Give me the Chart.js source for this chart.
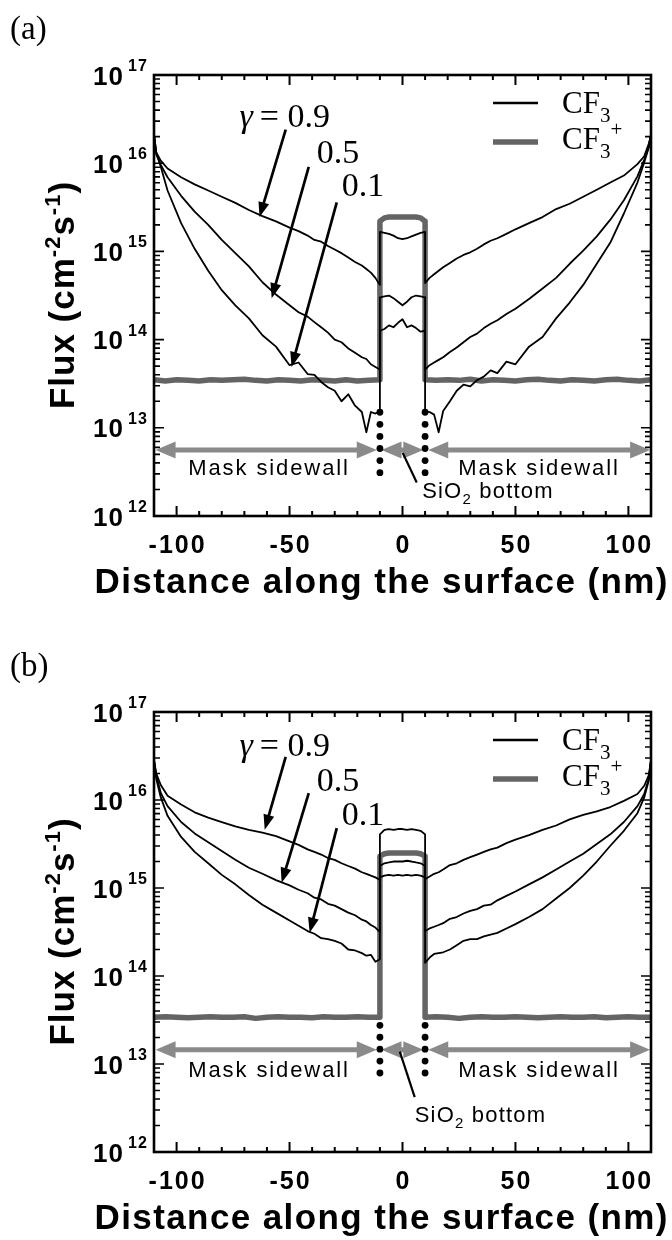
<!DOCTYPE html>
<html>
<head>
<meta charset="utf-8">
<script src="https://cdn.jsdelivr.net/npm/chart.js@4.4.1/dist/chart.umd.min.js"></script>
<style>
  html, body { margin: 0; padding: 0; background: #fff; }
  #page { position: relative; width: 672px; height: 1240px; overflow: hidden; }
  .panel { position: absolute; left: 0; width: 672px; height: 620px; }
</style>
</head>
<body>
<div id="page">
  <div class="panel" style="top:0"><canvas id="chartA" width="672" height="620"></canvas></div>
  <div class="panel" style="top:620px"><canvas id="chartB" width="672" height="620"></canvas></div>
</div>
<script>
// ---- distance grids (nm) ----
const xLeft = [-110, -109, -107, -104, -98, -92, -86, -80, -74, -68, -62, -56, -50, -46, -42, -39, -36, -33, -30, -27, -24, -21, -18, -16, -14, -12, -10];
const xBottom = [-10, -8, -6, -4, -2, 0, 2, 4, 6, 8, 10];
const xRight = [10, 12, 14, 16, 18, 21, 24, 27, 30, 33, 36, 39, 42, 46, 50, 56, 62, 68, 74, 80, 86, 92, 98, 104, 107, 109, 110];
const ionXLeft = [-110, -105, -100, -95, -90, -85, -80, -75, -70, -65, -60, -55, -50, -45, -40, -35, -30, -25, -20, -15, -10];
const ionXRight = [10, 15, 20, 25, 30, 35, 40, 45, 50, 55, 60, 65, 70, 75, 80, 85, 90, 95, 100, 105, 110];

// ---- axis ticks ----
const xTickLabels = [-100, -50, 0, 50, 100];
const yDecades = [12, 13, 14, 15, 16, 17];

// ---- panel (a): CF3 flux (cm^-2 s^-1) ----
const a09Left = [2.09e16, 1.32e16, 1.07e16, 8.71e15, 6.92e15, 5.75e15, 4.90e15, 4.17e15, 3.55e15, 2.95e15, 2.51e15, 2.19e15, 1.86e15, 1.70e15, 1.51e15, 1.35e15, 1.29e15, 1.15e15, 1.05e15, 9.55e14, 8.51e14, 7.59e14, 6.92e14, 6.31e14, 5.75e14, 5.01e14, 4.17e14];
const a09Bottom = [1.66e15, 1.62e15, 1.58e15, 1.51e15, 1.41e15, 1.38e15, 1.41e15, 1.48e15, 1.55e15, 1.62e15, 1.66e15];
const a09Right = [4.37e14, 5.01e14, 5.50e14, 6.03e14, 6.61e14, 7.41e14, 8.32e14, 9.12e14, 9.77e14, 1.07e15, 1.20e15, 1.32e15, 1.41e15, 1.58e15, 1.78e15, 2.09e15, 2.45e15, 3.02e15, 3.47e15, 4.17e15, 5.01e15, 6.03e15, 7.24e15, 9.77e15, 1.20e16, 1.66e16, 2.09e16];

const a05Left = [2.09e16, 1.26e16, 9.55e15, 6.92e15, 4.27e15, 2.82e15, 2.00e15, 1.35e15, 9.55e14, 6.76e14, 4.47e14, 3.24e14, 2.45e14, 2.04e14, 1.82e14, 1.58e14, 1.38e14, 1.20e14, 1.00e14, 9.33e13, 7.94e13, 7.08e13, 6.31e13, 6.03e13, 5.25e13, 4.90e13, 4.57e13];
const a05Bottom = [3.02e14, 3.09e14, 3.16e14, 2.95e14, 2.69e14, 2.45e14, 2.69e14, 3.02e14, 3.16e14, 3.09e14, 3.02e14];
const a05Right = [4.57e13, 5.13e13, 5.50e13, 5.89e13, 6.31e13, 7.24e13, 8.13e13, 9.33e13, 1.07e14, 1.17e14, 1.35e14, 1.51e14, 1.66e14, 1.95e14, 2.24e14, 2.88e14, 3.80e14, 5.01e14, 7.24e14, 1.02e15, 1.48e15, 2.29e15, 3.80e15, 7.08e15, 1.10e16, 1.51e16, 2.09e16];

const a01Left = [2.09e16, 1.32e16, 9.12e15, 4.90e15, 2.09e15, 1.07e15, 6.03e14, 3.63e14, 2.45e14, 1.74e14, 1.12e14, 8.32e13, 5.13e13, 5.50e13, 4.07e13, 3.98e13, 3.31e13, 2.88e13, 2.63e13, 2.00e13, 2.40e13, 1.78e13, 1.51e13, 8.91e12, 1.51e13, 1.45e13, 1.55e13];
const a01Bottom = [1.26e14, 1.32e14, 1.45e14, 1.38e14, 1.55e14, 1.70e14, 1.38e14, 1.45e14, 1.35e14, 1.23e14, 1.26e14];
const a01Right = [1.55e13, 1.51e13, 1.41e13, 8.91e12, 1.55e13, 2.00e13, 2.63e13, 3.09e13, 2.95e13, 3.47e13, 3.80e13, 4.47e13, 4.17e13, 5.62e13, 5.25e13, 8.32e13, 1.07e14, 1.74e14, 2.63e14, 4.17e14, 7.24e14, 1.26e15, 2.69e15, 6.03e15, 1.02e16, 1.51e16, 2.09e16];

// ---- panel (a): CF3+ flux ----
const ionALeft = [3.5e13, 3.4e13, 3.5e13, 3.45e13, 3.4e13, 3.5e13, 3.45e13, 3.5e13, 3.55e13, 3.45e13, 3.4e13, 3.5e13, 3.45e13, 3.4e13, 3.5e13, 3.45e13, 3.4e13, 3.5e13, 3.4e13, 3.45e13, 3.5e13];
const ionABottom = [2.2e15, 2.4e15, 2.45e15, 2.45e15, 2.45e15, 2.45e15, 2.45e15, 2.45e15, 2.45e15, 2.4e15, 2.2e15];
const ionARight = [3.5e13, 3.45e13, 3.5e13, 3.45e13, 3.55e13, 3.4e13, 3.5e13, 3.45e13, 3.4e13, 3.5e13, 3.55e13, 3.45e13, 3.4e13, 3.5e13, 3.45e13, 3.4e13, 3.5e13, 3.55e13, 3.45e13, 3.4e13, 3.5e13];

// ---- panel (b): CF3 flux ----
const b09Left = [2.82e16, 2.00e16, 1.48e16, 1.12e16, 8.91e15, 7.24e15, 6.31e15, 5.62e15, 5.01e15, 4.57e15, 4.27e15, 3.89e15, 3.39e15, 3.09e15, 2.75e15, 2.57e15, 2.40e15, 2.19e15, 2.09e15, 1.91e15, 1.78e15, 1.66e15, 1.51e15, 1.45e15, 1.38e15, 1.32e15, 1.23e15];
const b09Bottom = [4.07e15, 4.57e15, 4.68e15, 4.57e15, 4.68e15, 4.68e15, 4.57e15, 4.68e15, 4.57e15, 4.47e15, 4.07e15];
const b09Right = [1.26e15, 1.35e15, 1.45e15, 1.51e15, 1.62e15, 1.82e15, 1.91e15, 2.09e15, 2.24e15, 2.40e15, 2.57e15, 2.75e15, 2.88e15, 3.24e15, 3.55e15, 3.98e15, 4.57e15, 5.13e15, 6.03e15, 6.76e15, 7.41e15, 8.32e15, 9.77e15, 1.17e16, 1.45e16, 1.91e16, 2.82e16];

const b05Left = [2.82e16, 1.91e16, 1.20e16, 8.51e15, 5.62e15, 4.17e15, 3.31e15, 2.63e15, 2.09e15, 1.70e15, 1.45e15, 1.23e15, 1.07e15, 9.55e14, 8.71e14, 7.76e14, 7.41e14, 6.61e14, 6.31e14, 5.75e14, 5.25e14, 4.90e14, 4.37e14, 4.17e14, 3.80e14, 3.55e14, 3.16e14];
const b05Bottom = [1.78e15, 1.91e15, 1.95e15, 2.00e15, 2.00e15, 2.00e15, 2.04e15, 2.00e15, 1.95e15, 1.91e15, 1.78e15];
const b05Right = [3.24e14, 3.47e14, 3.63e14, 3.80e14, 3.98e14, 4.47e14, 4.68e14, 5.13e14, 5.50e14, 5.75e14, 6.31e14, 6.46e14, 7.24e14, 8.13e14, 9.12e14, 1.10e15, 1.32e15, 1.62e15, 2.00e15, 2.45e15, 3.16e15, 4.07e15, 5.62e15, 8.51e15, 1.17e16, 1.74e16, 2.82e16];

const b01Left = [2.82e16, 1.74e16, 1.07e16, 6.61e15, 3.80e15, 2.57e15, 1.91e15, 1.41e15, 1.10e15, 8.32e14, 6.46e14, 5.25e14, 4.27e14, 3.72e14, 3.24e14, 3.02e14, 2.69e14, 2.63e14, 2.51e14, 2.34e14, 2.00e14, 1.95e14, 1.82e14, 1.70e14, 1.74e14, 1.45e14, 1.55e14];
const b01Bottom = [1.32e15, 1.38e15, 1.41e15, 1.38e15, 1.41e15, 1.38e15, 1.41e15, 1.38e15, 1.41e15, 1.38e15, 1.32e15];
const b01Right = [1.41e14, 1.62e14, 1.78e14, 1.82e14, 1.86e14, 2.00e14, 2.24e14, 2.51e14, 2.63e14, 2.63e14, 2.82e14, 2.95e14, 3.09e14, 3.47e14, 3.89e14, 4.68e14, 5.75e14, 7.59e14, 1.00e15, 1.38e15, 2.00e15, 3.02e15, 4.47e15, 7.08e15, 1.07e16, 1.66e16, 2.82e16];

// ---- panel (b): CF3+ flux ----
const ionBLeft = [3.4e13, 3.45e13, 3.4e13, 3.35e13, 3.4e13, 3.45e13, 3.4e13, 3.4e13, 3.45e13, 3.3e13, 3.4e13, 3.45e13, 3.4e13, 3.4e13, 3.35e13, 3.45e13, 3.4e13, 3.4e13, 3.45e13, 3.4e13, 3.4e13];
const ionBBottom = [2.3e15, 2.45e15, 2.5e15, 2.5e15, 2.5e15, 2.5e15, 2.5e15, 2.5e15, 2.5e15, 2.45e15, 2.3e15];
const ionBRight = [3.4e13, 3.45e13, 3.4e13, 3.3e13, 3.4e13, 3.45e13, 3.4e13, 3.4e13, 3.45e13, 3.4e13, 3.35e13, 3.4e13, 3.45e13, 3.4e13, 3.4e13, 3.45e13, 3.35e13, 3.4e13, 3.45e13, 3.4e13, 3.4e13];

// ---- fonts / colours ----
const SANS = '"Liberation Sans", Arial, sans-serif';
const SERIF = '"Liberation Serif", "Times New Roman", serif';
const ION_GREY = '#646464';
const ARROW_GREY = '#8a8a8a';

// join wall / bottom / wall segments into one {x, y} trace
function trace(parts) {
  const out = [];
  for (const [xs, ys] of parts) xs.forEach((x, i) => out.push({ x, y: ys[i] }));
  return out;
}

// ---- text helpers (per-character tracking, sub/superscripts) ----
function runsWidth(ctx, runs, sp) {
  let w = 0, n = 0;
  for (const r of runs) {
    ctx.font = r.font;
    for (const ch of r.text) { w += ctx.measureText(ch).width; n++; }
    w += r.gap || 0;
  }
  return w + sp * (n - 1);
}
function drawRuns(ctx, runs, x, y, align, sp) {
  const w = runsWidth(ctx, runs, sp);
  let cx = align === 'center' ? x - w / 2 : align === 'right' ? x - w : x;
  ctx.textAlign = 'left';
  ctx.textBaseline = 'alphabetic';
  for (const r of runs) {
    ctx.font = r.font;
    for (const ch of r.text) {
      ctx.fillText(ch, cx, y + (r.dy || 0));
      cx += ctx.measureText(ch).width + sp;
    }
    cx += r.gap || 0;
  }
}
function arrowHead(ctx, x1, y1, x2, y2, len, half) {
  const ang = Math.atan2(y2 - y1, x2 - x1);
  const bx = x2 - len * Math.cos(ang), by = y2 - len * Math.sin(ang);
  ctx.beginPath();
  ctx.moveTo(x2, y2);
  ctx.lineTo(bx + half * Math.sin(ang), by - half * Math.cos(ang));
  ctx.lineTo(bx - half * Math.sin(ang), by + half * Math.cos(ang));
  ctx.closePath();
  ctx.fill();
  return [bx, by];
}
function singleArrow(ctx, x1, y1, x2, y2, w, len, half, color) {
  ctx.fillStyle = color; ctx.strokeStyle = color; ctx.lineWidth = w; ctx.lineCap = 'butt';
  const [bx, by] = arrowHead(ctx, x1, y1, x2, y2, len, half);
  ctx.beginPath(); ctx.moveTo(x1, y1); ctx.lineTo(bx + (x2 - bx) * 0.3, by + (y2 - by) * 0.3); ctx.stroke();
}
function doubleArrow(ctx, x1, y, x2, w, len, half, color) {
  ctx.fillStyle = color; ctx.strokeStyle = color; ctx.lineWidth = w; ctx.lineCap = 'butt';
  arrowHead(ctx, x2, y, x1, y, len, half);
  arrowHead(ctx, x1, y, x2, y, len, half);
  ctx.beginPath(); ctx.moveTo(x1 + len * 0.7, y); ctx.lineTo(x2 - len * 0.7, y); ctx.stroke();
}

// ---- frame, ticks, labels and annotations ----
function decorations(panel) {
  return {
    id: 'decor' + panel.tag,
    afterDraw(chart) {
      const { ctx, chartArea: a, scales: { x, y } } = chart;
      const X = v => x.getPixelForValue(v);
      const Y = v => y.getPixelForValue(v);
      ctx.save();
      ctx.fillStyle = '#000';
      ctx.strokeStyle = '#000';

      // panel tag
      ctx.font = '33px ' + SERIF;
      ctx.textAlign = 'left'; ctx.textBaseline = 'alphabetic';
      ctx.fillText(panel.tag, 10, a.top - 36);

      // grey region arrows
      const ya = Y(panel.regionY);
      doubleArrow(ctx, X(-109.3), ya, X(-11.4), 5, 20, 8.5, ARROW_GREY);
      doubleArrow(ctx, X(-9.3), ya, X(9.2), 5, 20, 8.5, ARROW_GREY);
      doubleArrow(ctx, X(11.4), ya, X(109.6), 5, 20, 8.5, ARROW_GREY);

      // dotted trench edges
      ctx.fillStyle = '#000';
      ctx.strokeStyle = '#000';
      const dTop = Y(panel.dots[0]), dBot = Y(panel.dots[1]), n = panel.dots[2];
      for (const xv of [-10, 10]) {
        for (let i = 0; i < n; i++) {
          const py = dTop + (dBot - dTop) * i / (n - 1);
          ctx.beginPath(); ctx.arc(X(xv), py, 3.4, 0, Math.PI * 2); ctx.fill();
        }
      }

      // region texts
      const maskFont = '22px ' + SANS;
      drawRuns(ctx, [{ text: 'Mask sidewall', font: maskFont }], X(-59.5), Y(panel.maskY), 'center', 1.9);
      drawRuns(ctx, [{ text: 'Mask sidewall', font: maskFont }], X(60), Y(panel.maskY), 'center', 1.9);
      const L = panel.leader;
      ctx.lineWidth = 2.2; ctx.lineCap = 'butt';
      ctx.beginPath(); ctx.moveTo(X(L[0]), Y(L[1])); ctx.lineTo(X(L[2]), Y(L[3])); ctx.stroke();
      drawRuns(ctx, [
        { text: 'SiO', font: maskFont },
        { text: '2', font: '15px ' + SANS, dy: 6 },
        { text: ' bottom', font: maskFont }
      ], X(panel.sio2[0]), Y(panel.sio2[1]), 'left', 1.2);

      // sticking-coefficient labels and arrows
      const gFont = '34px ' + SERIF;
      drawRuns(ctx, [{ text: 'γ', font: 'italic 34px ' + SERIF, gap: 7 }, { text: '= 0.9', font: gFont }],
        X(panel.g09[0]), Y(panel.g09[1]), 'left', 0);
      drawRuns(ctx, [{ text: '0.5', font: gFont }], X(panel.g05[0]), Y(panel.g05[1]), 'left', 0);
      drawRuns(ctx, [{ text: '0.1', font: gFont }], X(panel.g01[0]), Y(panel.g01[1]), 'left', 0);
      for (const ar of panel.arrows) {
        singleArrow(ctx, X(ar[0]), Y(ar[1]), X(ar[2]), Y(ar[3]), 2.7, 15, 5.5, '#000');
      }

      // legend
      ctx.lineCap = 'butt';
      ctx.strokeStyle = '#000'; ctx.lineWidth = 2.6;
      ctx.beginPath(); ctx.moveTo(a.right - 158, a.top + 28); ctx.lineTo(a.right - 113, a.top + 28); ctx.stroke();
      ctx.strokeStyle = ION_GREY; ctx.lineWidth = 5.5;
      ctx.beginPath(); ctx.moveTo(a.right - 158, a.top + 67); ctx.lineTo(a.right - 113, a.top + 67); ctx.stroke();
      ctx.fillStyle = '#000';
      const lf = '31px ' + SERIF, sf = '21px ' + SERIF;
      drawRuns(ctx, [{ text: 'CF', font: lf }, { text: '3', font: sf, dy: 9 }], a.right - 89, a.top + 38, 'left', 0);
      drawRuns(ctx, [{ text: 'CF', font: lf }, { text: '3', font: sf, dy: 9 }, { text: '+', font: sf, dy: -13 }],
        a.right - 89, a.top + 74, 'left', 0);

      // frame
      ctx.strokeStyle = '#000'; ctx.lineWidth = 2.6;
      ctx.strokeRect(a.left, a.top, a.right - a.left, a.bottom - a.top);

      // x ticks (inward, top and bottom)
      ctx.lineWidth = 2;
      for (let v = -100; v <= 100; v += 10) {
        const px = X(v), len = v % 50 === 0 ? 10 : 5;
        ctx.beginPath();
        ctx.moveTo(px, a.bottom); ctx.lineTo(px, a.bottom - len);
        ctx.moveTo(px, a.top); ctx.lineTo(px, a.top + len);
        ctx.stroke();
      }
      // y ticks (inward, left and right)
      ctx.lineWidth = 1.6;
      for (let e = 12; e < 17; e++) {
        for (let m = 1; m <= 9; m++) {
          if (e === 12 && m === 1) continue;
          const py = Y(m * Math.pow(10, e)), len = m === 1 ? 10 : 6;
          ctx.beginPath();
          ctx.moveTo(a.left, py); ctx.lineTo(a.left + len, py);
          ctx.moveTo(a.right, py); ctx.lineTo(a.right - len, py);
          ctx.stroke();
        }
      }

      // tick labels
      ctx.fillStyle = '#000';
      const tickFont = 'bold 25px ' + SANS;
      for (const v of xTickLabels) {
        drawRuns(ctx, [{ text: String(v), font: tickFont }], X(v), a.bottom + 37, 'center', 2);
      }
      for (const e of yDecades) {
        const py = Y(Math.pow(10, e));
        drawRuns(ctx, [{ text: '10', font: 'bold 26px ' + SANS }], a.left - 31, py + 9.5, 'right', 1);
        drawRuns(ctx, [{ text: String(e), font: 'bold 16px ' + SANS }], a.left - 26, py - 4, 'left', 1);
      }

      // axis titles
      const tf = 'bold 35px ' + SANS;
      drawRuns(ctx, [{ text: 'Distance along the surface (nm)', font: tf }], 381, a.bottom + 77, 'center', 1.4);
      ctx.save();
      ctx.translate(74, (a.top + a.bottom) / 2);
      ctx.rotate(-Math.PI / 2);
      const sup = 'bold 22px ' + SANS;
      drawRuns(ctx, [
        { text: 'Flux (cm', font: tf },
        { text: '-2', font: sup, dy: -14 },
        { text: 's', font: tf },
        { text: '-1', font: sup, dy: -14 },
        { text: ')', font: tf }
      ], 0, 0, 'center', 1);
      ctx.restore();

      ctx.restore();
    }
  };
}

function makeChart(id, panel, curves) {
  const black = (label, data) => ({ label, data, borderColor: '#000', borderWidth: 1.8 });
  return new Chart(document.getElementById(id), {
    type: 'line',
    data: {
      datasets: [
        black('γ = 0.9', curves.g09),
        black('γ = 0.5', curves.g05),
        black('γ = 0.1', curves.g01),
        { label: 'CF3+', data: curves.ion, borderColor: ION_GREY, borderWidth: 5.5 }
      ]
    },
    options: {
      responsive: false,
      animation: false,
      devicePixelRatio: 1,
      layout: { padding: { left: 154, right: 21, top: panel.padTop, bottom: panel.padBottom } },
      elements: {
        point: { radius: 0, hoverRadius: 0 },
        line: { tension: 0, fill: false, borderJoinStyle: 'round' }
      },
      scales: {
        x: { type: 'linear', min: -110, max: 110, display: false },
        y: { type: 'logarithmic', min: 1e12, max: 1e17, display: false }
      },
      plugins: { legend: { display: false }, tooltip: { enabled: false } }
    },
    plugins: [decorations(panel)]
  });
}

const panelA = {
  tag: '(a)', padTop: 75, padBottom: 104,
  regionY: 5.6e12, dots: [1.5e13, 3.1e12, 6], maskY: 2.9e12,
  leader: [0.1, 5.2e12, 6.3, 2.4e12], sio2: [8.7, 1.6e12],
  g09: [-72.2, 2.6e16], g05: [-38, 1.0e16], g01: [-26.9, 4.3e15],
  arrows: [[-51.7, 2.4e16, -63.3, 2.45e15], [-41.5, 9.1e15, -57.9, 2.95e14], [-29.1, 3.6e15, -49.1, 4.9e13]]
};
const panelB = {
  tag: '(b)', padTop: 92, padBottom: 88,
  regionY: 1.45e13, dots: [2.75e13, 7.9e12, 5], maskY: 7.1e12,
  leader: [-1.2, 1.38e13, 5.4, 4.2e12], sio2: [5.4, 2.2e12],
  g09: [-72.2, 3.2e16], g05: [-38, 1.26e16], g01: [-26.9, 5.2e15],
  arrows: [[-51.7, 3.1e16, -61, 4.6e15], [-41.5, 1.2e16, -53.5, 1.15e15], [-29.1, 4.8e15, -41.1, 3.1e14]]
};

makeChart('chartA', panelA, {
  g09: trace([[xLeft, a09Left], [xBottom, a09Bottom], [xRight, a09Right]]),
  g05: trace([[xLeft, a05Left], [xBottom, a05Bottom], [xRight, a05Right]]),
  g01: trace([[xLeft, a01Left], [xBottom, a01Bottom], [xRight, a01Right]]),
  ion: trace([[ionXLeft, ionALeft], [xBottom, ionABottom], [ionXRight, ionARight]])
});
makeChart('chartB', panelB, {
  g09: trace([[xLeft, b09Left], [xBottom, b09Bottom], [xRight, b09Right]]),
  g05: trace([[xLeft, b05Left], [xBottom, b05Bottom], [xRight, b05Right]]),
  g01: trace([[xLeft, b01Left], [xBottom, b01Bottom], [xRight, b01Right]]),
  ion: trace([[ionXLeft, ionBLeft], [xBottom, ionBBottom], [ionXRight, ionBRight]])
});
</script>
</body>
</html>
